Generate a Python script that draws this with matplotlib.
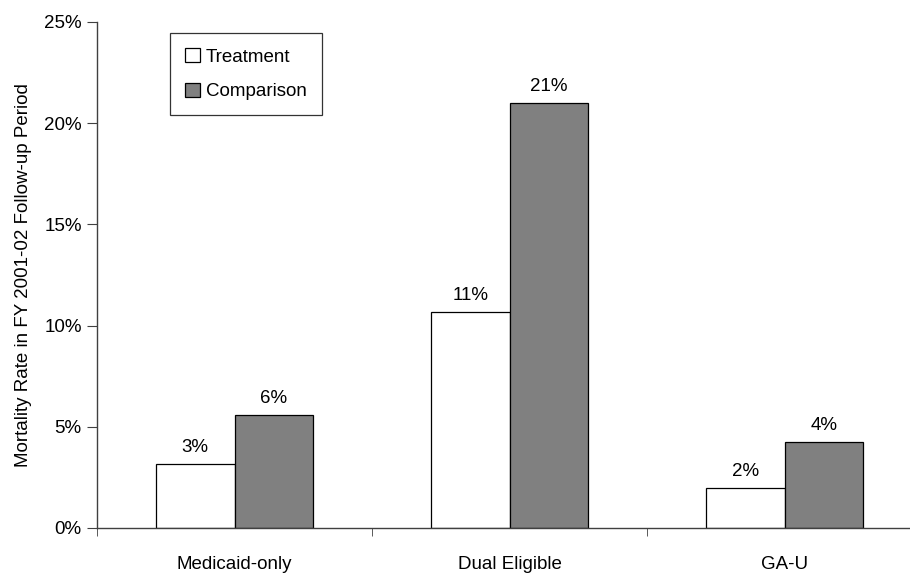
import numpy as np
import matplotlib.pyplot as plt
from matplotlib.ticker import FixedLocator, PercentFormatter

plt.rcParams['font.family'] = ['Liberation Sans Narrow', 'Liberation Sans', 'DejaVu Sans']
fs = 13.5

# mortality rates (%) by eligibility group
groups = ["Medicaid-only", "Dual Eligible", "GA-U"]
treatment = [3.16, 10.65, 1.96]
comparison = [5.6, 20.99, 4.23]

fig = plt.figure(figsize=(9.1, 5.74), dpi=100)
ax = fig.add_axes([97/910, 1 - 528/574, (910 - 97)/910, (528 - 22)/574])

x = np.arange(len(groups))
w = 0.285
b1 = ax.bar(x - w/2, treatment, w, color="white", edgecolor="black", linewidth=0.9, label="Treatment")
b2 = ax.bar(x + w/2, comparison, w, color="#808080", edgecolor="black", linewidth=0.9, label="Comparison")

for bars, vals in ((b1, treatment), (b2, comparison)):
    for r, v in zip(bars, vals):
        ax.text(r.get_x() + r.get_width()/2, v + 0.4, f"{round(v)}%", ha="center", va="bottom", fontsize=fs)

ax.set_xlim(-0.5, -0.5 + (910 - 97)/275)
ax.set_ylim(0, 25)
ax.yaxis.set_major_locator(FixedLocator([0, 5, 10, 15, 20, 25]))
ax.yaxis.set_major_formatter(PercentFormatter(decimals=0))

# group labels at centres, tick marks at group boundaries
ax.set_xticks(x)
ax.set_xticklabels(groups)
ax.set_xticks([-0.5, 0.5, 1.5], minor=True)
ax.tick_params(axis="x", which="major", length=0, pad=20, labelsize=fs)
ax.tick_params(axis="x", which="minor", length=6, direction="out", color="#404040")
ax.tick_params(axis="y", length=7, direction="out", labelsize=fs, color="#404040", pad=4)

for s in ("top", "right"):
    ax.spines[s].set_visible(False)
for s in ("left", "bottom"):
    ax.spines[s].set_color("#404040")
    ax.spines[s].set_linewidth(1.0)

ax.set_ylabel("Mortality Rate in FY 2001-02 Follow-up Period", fontsize=fs, labelpad=9)

leg = ax.legend(loc="upper left", bbox_to_anchor=((170 - 97)/813, (528 - 33)/506),
                fontsize=fs, frameon=True, fancybox=False, edgecolor="black",
                handlelength=0.8, handleheight=0.8, handletextpad=0.3,
                labelspacing=0.9, borderpad=0.8, borderaxespad=0)
leg.get_frame().set_linewidth(0.9)

fig.savefig("out.png", dpi=100)
